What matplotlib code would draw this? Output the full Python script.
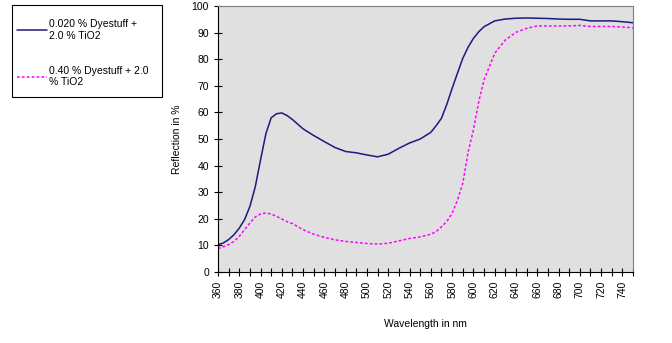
import matplotlib
matplotlib.use("Agg")
import matplotlib.pyplot as plt
from matplotlib.ticker import MultipleLocator
from matplotlib.patches import Rectangle

plt.rcParams['font.family'] = ['Liberation Sans', 'DejaVu Sans']

wavelength = [360, 365, 370, 375, 380, 385, 390, 395, 400, 405, 410, 415, 420, 425, 430,
              440, 450, 460, 470, 480, 490, 500, 510, 520, 530, 540, 550, 560,
              565, 570, 575, 580, 585, 590, 595, 600, 605, 610,
              620, 630, 640, 650, 660, 670, 680, 690, 700, 710, 720, 730, 740, 750]
series1 = [10.3, 10.9, 12.2, 14.0, 16.5, 19.7, 24.7, 32.0, 42.2, 52.0, 58.0, 59.5, 59.8, 58.8, 57.3,
           53.8, 51.3, 49.0, 46.8, 45.3, 44.8, 44.0, 43.3, 44.3, 46.5, 48.5, 50.0, 52.5,
           55.0, 57.8, 63.0, 69.0, 74.7, 80.3, 84.5, 87.8, 90.3, 92.2,
           94.4, 95.1, 95.4, 95.5, 95.4, 95.3, 95.1, 95.0, 95.0, 94.4, 94.4, 94.4, 94.1, 93.7]
series2 = [8.8, 9.5, 10.3, 11.5, 13.4, 15.9, 18.4, 20.7, 21.8, 22.2, 21.8, 20.9, 19.9, 18.9, 18.2,
           15.9, 14.2, 13.0, 12.1, 11.5, 11.1, 10.7, 10.5, 10.8, 11.7, 12.6, 13.2, 14.2,
           15.2, 17.0, 19.0, 22.0, 27.0, 33.3, 45.0, 53.4, 64.0, 72.2,
           82.2, 87.2, 90.1, 91.6, 92.5, 92.5, 92.5, 92.5, 92.7, 92.3, 92.3, 92.3, 92.1, 91.8]
label1 = "0.020 % Dyestuff +\n2.0 % TiO2"
label2 = "0.40 % Dyestuff + 2.0\n% TiO2"
xticks = list(range(360, 741, 20))

fig = plt.figure(figsize=(6.72, 3.43), dpi=100)
ax = fig.add_axes([218/672, 71/343, (633-218)/672, (272-6)/343])
ax.set_facecolor('#e0e0e0')
l1, = ax.plot(wavelength, series1, color='#1a1a80', lw=1.1, label=label1,
              solid_joinstyle='round', solid_capstyle='round')
l2, = ax.plot(wavelength, series2, color='#ff00ff', lw=1.1, ls=(0, (1.8, 1.4)), label=label2,
              dash_joinstyle='round')
ax.set_xlim(360, 750)
ax.set_ylim(0, 100)
ax.set_xticks(xticks)
ax.xaxis.set_minor_locator(MultipleLocator(10))
ax.yaxis.set_major_locator(MultipleLocator(10))
ax.tick_params(axis='both', which='both', direction='inout', length=6, width=0.8, labelsize=7.5)
ax.tick_params(axis='x', which='major', rotation=90)
for s in ['top', 'right']:
    ax.spines[s].set_color('#808080')
for s in ['left', 'bottom']:
    ax.spines[s].set_color('black')
ax.set_xlabel('Wavelength in nm', fontsize=7.5, labelpad=15)
ax.set_ylabel('Reflection in %', fontsize=7.5, labelpad=7)

fig.patches.append(Rectangle((12/672, 1-97/343), 150/672, 92/343, transform=fig.transFigure,
                             fill=False, ec='black', lw=0.8))
leg = fig.legend(handles=[l1, l2], loc='upper left', bbox_to_anchor=(17/672, 1-19/343),
                 fontsize=7.5, frameon=False,
                 handlelength=2.9, handletextpad=0.2, labelspacing=2.4,
                 borderpad=0, borderaxespad=0)
fig.savefig('out.png', dpi=100)
